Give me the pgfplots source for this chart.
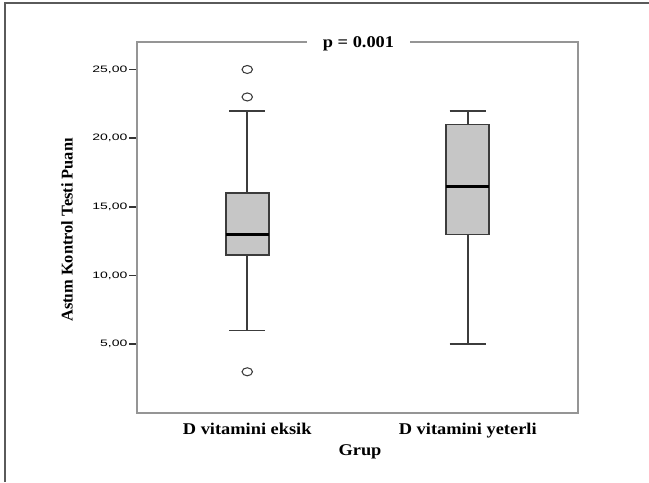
\documentclass[border=0pt]{standalone}
\usepackage{fontspec}
\setmainfont{Liberation Serif}
\newfontfamily\labfont[FakeStretch=1.12]{Liberation Serif}
\newfontfamily\tickfont[FakeStretch=1.5]{Liberation Sans}
\usepackage{pgfplots}
\pgfplotsset{compat=1.18}
\usepgfplotslibrary{statistics}
\definecolor{framec}{HTML}{5A5A5A}
\definecolor{axisc}{HTML}{959595}
\definecolor{boxline}{HTML}{3C3C3C}
\definecolor{boxfill}{HTML}{C6C6C6}
\begin{document}
\begin{tikzpicture}[x=0.75pt,y=0.75pt]
\useasboundingbox (0,0) rectangle (649,482);
\draw[line width=1.5pt, color=framec] (5,0) -- (5,478.5) -- (649,478.5);
\begin{axis}[
  at={(102.75pt,51.75pt)}, anchor=origin,
  scale only axis, width=330.75pt, height=278.25pt,
  xmin=0.5, xmax=2.5, ymin=0, ymax=27,
  axis line style={color=axisc, line width=1.4pt},
  xtick={1,2}, xticklabels={D vitamini eksik, D vitamini yeterli},
  ytick={5,10,15,20,25},
  yticklabel={\tickfont\fontsize{7}{8}\selectfont\pgfmathprintnumber[fixed,fixed zerofill,precision=2,use comma,assume math mode=true]{\tick}},
  ytick pos=left, xtick pos=bottom,
  tick align=outside, major tick length=6pt,
  y tick style={color=black!80, line width=1.2pt},
  x tick style={draw=none},
  yticklabel style={inner xsep=1pt},
  xticklabel style={font=\labfont\bfseries\fontsize{12.3}{14}\selectfont, yshift=2pt},
  boxplot/draw direction=y,
  boxplot/every box/.style={draw=boxline, line width=1.2pt, fill=boxfill},
  boxplot/every whisker/.style={draw=boxline, line width=1.2pt},
  boxplot/every median/.style={draw=black, line width=1.9pt},
]
\addplot+[solid, draw=boxline, fill=boxfill,
  mark=o, mark size=3pt, mark options={draw=boxline, fill=white, xscale=1.3, line width=0.8pt},
  boxplot prepared={lower whisker=6, lower quartile=11.5, median=13,
    upper quartile=16, upper whisker=22, draw position=1,
    box extend=0.195, whisker extend=0.165}]
  table[row sep=\\, y index=0] {y\\ 25\\ 23\\ 3\\};
\addplot+[solid, draw=boxline, fill=boxfill,
  boxplot prepared={lower whisker=5, lower quartile=13, median=16.5,
    upper quartile=21, upper whisker=22, draw position=2,
    box extend=0.195, whisker extend=0.165}]
  coordinates {};
\end{axis}
\node[fill=white, inner xsep=12pt, inner ysep=2pt, font=\labfont\bfseries\fontsize{12.3}{14}\selectfont] at (358.5,438.5) {p = 0.001};
\node[anchor=base, font=\labfont\bfseries\fontsize{12.3}{14}\selectfont] at (360,27) {Grup};
\node[rotate=90, anchor=center, font=\bfseries\fontsize{12.3}{14}\selectfont] at (67,252) {Astım Kontrol Testi Puanı};
\end{tikzpicture}
\end{document}
